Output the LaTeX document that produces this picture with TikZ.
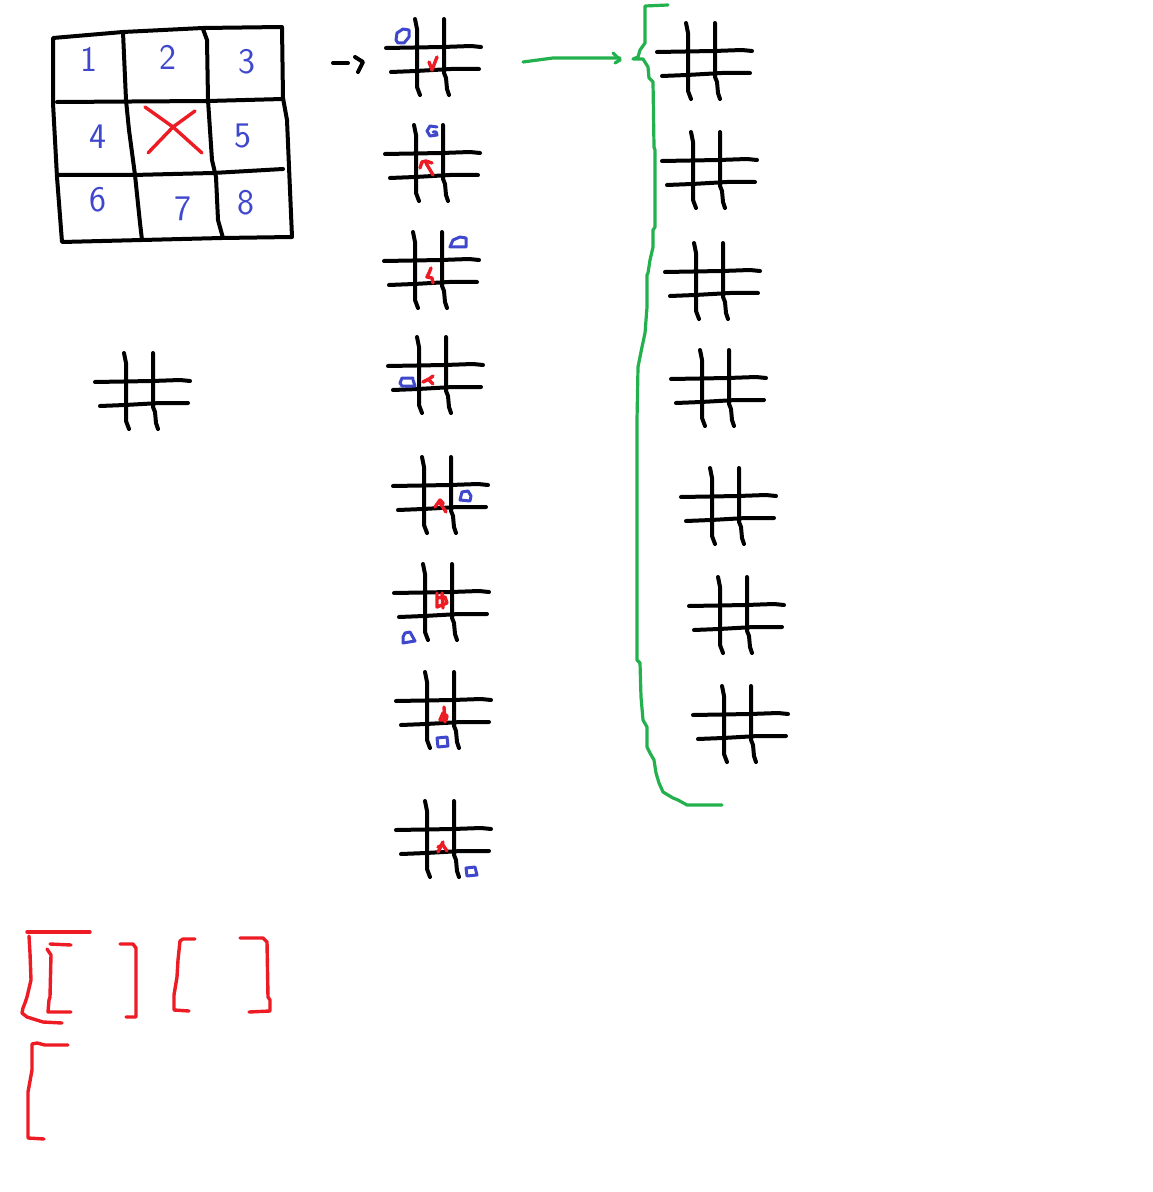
\documentclass[tikz,border=0pt]{standalone}
\usepackage{tikz}
\definecolor{paintblue}{HTML}{3F48CC}
\definecolor{paintred}{HTML}{ED1C24}
\definecolor{paintgreen}{HTML}{22B14C}
\tikzset{
  ink/.style={line width=2pt, line cap=round, line join=round},
  bluepen/.style={color=paintblue, line width=1.5pt, line cap=round, line join=round},
  redpen/.style={color=paintred, line width=1.7pt, line cap=round, line join=round},
  greenpen/.style={color=paintgreen, line width=1.6pt, line cap=round, line join=round},
  digit/.style={text=paintblue, font=\sffamily\fontsize{18}{18}\selectfont, inner sep=0pt}
}
\def\hashgrid(#1,#2){\begin{scope}[shift={(#1,#2)}]
  \draw[ink] (29,0) -- (31,10) -- (31,68) -- (34,76);
  \draw[ink] (58,0) -- (58,54) -- (60,59) -- (61,70) -- (63,76);
  \draw[ink] (0,29) -- (57,28) -- (85,27) -- (95,28);
  \draw[ink] (5,53) -- (30,52) -- (65,50) -- (93,50);
\end{scope}}

\begin{document}
\begin{tikzpicture}[x=0.5pt, y=-0.5pt]
		%%%%% START %%%%%
		\useasboundingbox (0,0) rectangle (1152,1192);
		
		% numbered board
		\draw[ink] (53,38) -- (123,32) -- (203,28) -- (282,27) -- (283,98) -- (287,120) -- (292,237) -- (222,238) -- (62,242) -- (57,177) -- (53,103) -- cycle;
		\draw[ink] (123,32) -- (126,100) -- (129,130) -- (135,175) -- (140,223) -- (142,240);
		\draw[ink] (203,29) -- (207,40) -- (208,100) -- (212,160) -- (216,177) -- (218,220) -- (223,238);
		\draw[ink] (57,102) -- (208,101) -- (283,99);
		\draw[ink] (57,175) -- (133,175) -- (213,173) -- (283,169);
		\draw[redpen] (145,107) -- (173,127) -- (202,153);
		\draw[redpen] (195,111) -- (173,127) -- (148,153);
		
		\node[digit] (d1) at (89,59) {1};
		\node[digit] (d2) at (168,57) {2};
		\node[digit] (d3) at (247,62) {3};
		\node[digit] (d4) at (98,137) {4};
		\node[digit] (d5) at (243,136) {5};
		\node[digit] (d6) at (98,200) {6};
		\node[digit] (d7) at (183,209) {7};
		\node[digit] (d8) at (246,203) {8};
		
		% empty board below
		\hashgrid(95,353)
		
		% arrow to the column
		\draw[ink] (333,63) -- (348,63);
		\draw[ink] (355,57) -- (363,62) -- (358,72);
		
		% column of boards, X in the centre
		\hashgrid(386,19)
		\hashgrid(385,125)
		\hashgrid(384,232)
		\hashgrid(388,337)
		\hashgrid(393,457)
		\hashgrid(394,564)
		\hashgrid(396,672)
		\hashgrid(396,801)
		
		\draw[bluepen] (396,40) -- (397,33) -- (403,29) -- (409,30) -- (409,37) -- (404,43) -- (398,43) -- cycle;
		\draw[redpen] (429,62) -- (432,70) -- (437,57);
		
		\draw[bluepen] (437,127) -- (430,126) -- (427,131) -- (430,136) -- (437,135) -- (436,132) -- (433,132);
		\draw[redpen] (420,168) -- (422,162) -- (426,161) -- (432,163);
		\draw[redpen] (426,163) -- (433,175);
		
		\draw[bluepen] (450,247) -- (453,240) -- (460,237) -- (466,238) -- (466,247) -- cycle;
		\draw[redpen] (431,268) -- (429,273) -- (427,277) -- (432,278) -- (433,283);
		
		\draw[bluepen] (413,378) -- (402,378) -- (400,383) -- (402,386) -- (415,386) -- (413,380);
		\draw[redpen] (423,382) -- (429,379) -- (433,376);
		\draw[redpen] (428,379) -- (433,384);
		
		\draw[bluepen] (460,500) -- (462,492) -- (468,491) -- (471,496) -- (470,501) -- cycle;
		\draw[redpen] (435,507) -- (440,500) -- (443,503) -- (442,506);
		\draw[redpen] (440,503) -- (446,512);
		
		\draw[redpen] (437,593) -- (437,607) -- (447,603) -- (445,597) -- (437,598);
		\draw[redpen] (442,593) -- (443,608);
		\draw[bluepen] (403,637) -- (405,633) -- (410,632) -- (415,641) -- (403,643) -- cycle;
		
		\draw[redpen] (440,720) -- (443,713) -- (447,716) -- (446,720) -- cycle;
		\draw[redpen] (444,707) -- (445,722);
		\draw[bluepen] (437,738) -- (447,737) -- (448,746) -- (438,747) -- cycle;
		
		\draw[redpen] (438,852) -- (443,842);
		\draw[redpen] (438,847) -- (443,845) -- (447,851);
		\draw[bluepen] (466,868) -- (475,867) -- (477,875) -- (467,876) -- cycle;
		
		% green arrow and brace
		\draw[greenpen] (523,62) -- (553,58) -- (620,58);
		\draw[greenpen] (613,53) -- (620,60) -- (615,63);
		\draw[greenpen] (668,5) -- (645,6) -- (645,43) -- (640,50) -- (638,57) -- (633,59) -- (643,59) -- (648,67) -- (649,78) -- (653,82) -- (654,147) -- (655,150) -- (655,227) -- (653,230) -- (653,247) -- (650,260) -- (648,273) -- (647,275) -- (647,307) -- (645,333) -- (642,347) -- (640,357) -- (638,367) -- (637,420) -- (637,660) -- (640,663) -- (641,697) -- (643,720) -- (647,727) -- (647,747) -- (650,753) -- (654,760) -- (656,773) -- (659,783) -- (663,792) -- (673,798) -- (678,800) -- (687,805) -- (722,805);
		
		% right column of empty boards
		\hashgrid(657,23)
		\hashgrid(662,132)
		\hashgrid(665,243)
		\hashgrid(671,350)
		\hashgrid(681,468)
		\hashgrid(689,577)
		\hashgrid(693,686)
		
		% red brackets
		\draw[redpen] (27,932) -- (90,932);
		\draw[redpen] (29,936) -- (30,953) -- (31,980) -- (27,997) -- (25,1003) -- (23,1008) -- (22,1013) -- (27,1017) -- (43,1022) -- (62,1023);
		\draw[redpen] (50,944) -- (71,945);
		\draw[redpen] (47,949) -- (51,955) -- (50,997) -- (49,1000) -- (48,1012) -- (71,1012);
		\draw[redpen] (120,944) -- (133,944) -- (136,948) -- (136,1017) -- (126,1017);
		\draw[redpen] (195,939) -- (183,939) -- (180,941) -- (178,960) -- (177,977) -- (174,995) -- (174,1010) -- (189,1011);
		\draw[redpen] (240,938) -- (263,938) -- (267,942) -- (268,997) -- (270,1000) -- (270,1011) -- (249,1012);
		\draw[redpen] (68,1045) -- (45,1045) -- (37,1043) -- (32,1044) -- (32,1070) -- (28,1092) -- (28,1138) -- (44,1139);
		
		%%%%% END %%%%%
\end{tikzpicture}
\end{document}
